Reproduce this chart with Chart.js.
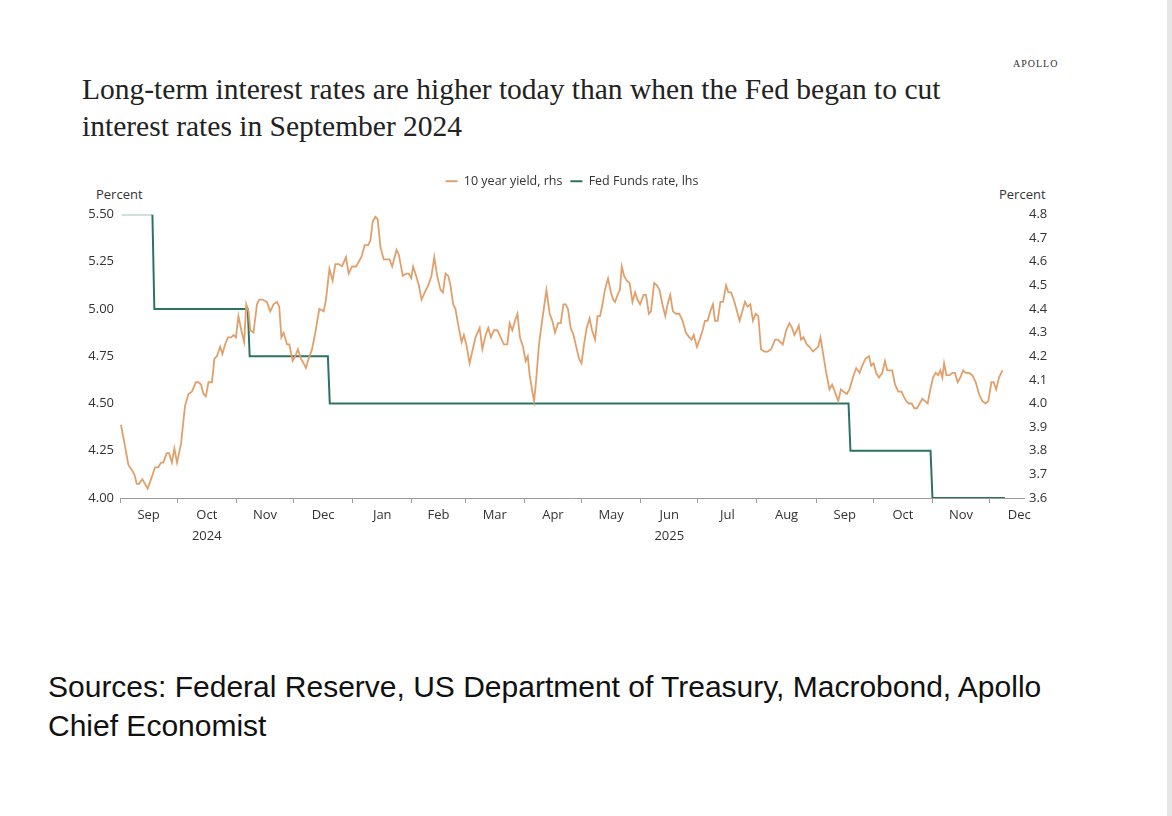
<!DOCTYPE html>
<html>
<head>
<meta charset="utf-8">
<title>Long-term rates vs Fed Funds</title>
<script src="https://cdn.jsdelivr.net/npm/chart.js@4.4.1/dist/chart.umd.min.js"></script>
<style>
  html, body { margin: 0; padding: 0; background: #fff; }
  body { width: 1172px; height: 816px; position: relative; overflow: hidden; }
  .edge { position: absolute; left: 1167px; top: 0; width: 5px; height: 816px; background: #e6e6e6; }
  .brand { position: absolute; left: 1013px; top: 58px; font-family: 'Liberation Serif', serif; font-size: 10px; letter-spacing: 1px; color: #333; }
  .title { position: absolute; left: 82px; top: 71px; width: 1000px; font-family: 'Liberation Serif', serif; font-size: 29.5px; line-height: 37px; color: #222; }
  .unit { position: absolute; top: 185px; font-family: 'Open Sans', sans-serif; font-size: 13px; color: #333; }
  .sources { position: absolute; left: 48px; top: 667px; font-family: 'Liberation Sans', Arial, sans-serif; font-size: 30px; line-height: 39px; color: #111; }
  #chartBox { position: absolute; left: 0; top: 160px; width: 1172px; height: 400px; }
</style>
</head>
<body>
<div class="edge"></div>
<div class="brand">APOLLO</div>
<div class="title">Long-term interest rates are higher today than when the Fed began to cut<br>interest rates in September 2024</div>
<div class="unit" style="left:96px">Percent</div>
<div class="unit" style="left:999px">Percent</div>
<div id="chartBox"><canvas id="rateChart"></canvas></div>
<div class="sources">Sources: Federal Reserve, US Department of Treasury, Macrobond, Apollo<br>Chief Economist</div>

<script>
// days counted from 1 Sep 2024
const yieldDay = [
  0.5, 2.6, 4.4, 6.1, 7.5, 8.8, 10.0, 11.7, 13.1, 14.5, 16.3, 18.4, 20.1, 21.5, 22.7, 24.5, 25.7, 27.2, 28.5, 29.9,
  32.0, 34.1, 35.9, 37.7, 39.8, 41.1, 42.5, 43.8, 45.0, 46.4, 48.2, 49.5, 50.8, 52.5, 53.7, 55.1, 56.6, 58.3, 59.5, 60.8,
  62.1, 63.6, 65.1, 66.2, 67.4, 68.3, 70.0, 71.8, 73.0, 74.7, 77.0, 78.8, 80.5, 82.3, 83.5, 84.6, 85.8, 87.6, 88.8, 90.5,
  91.9, 93.3, 94.9, 96.3, 97.5, 98.9, 100.7, 102.4, 104.5, 106.8, 108.0, 109.8, 111.5, 112.9, 114.7, 116.4, 118.5, 119.9, 121.7, 123.8,
  125.2, 126.6, 128.3, 130.1, 131.3, 132.5, 133.9, 135.1, 136.6, 138.3, 140.1, 141.3, 142.7, 145.0, 146.2, 148.3, 150.1, 151.4, 152.7, 153.7,
  155.3, 156.7, 158.1, 159.8, 161.6, 163.3, 164.8, 166.3, 168.1, 169.3, 170.7, 172.1, 173.3, 174.7, 175.9, 177.4, 179.1, 180.3, 181.6, 183.3,
  184.7, 186.4, 188.6, 190.0, 191.7, 193.1, 194.5, 196.1, 197.9, 199.6, 201.3, 203.1, 204.3, 205.7, 207.1, 208.4, 209.7, 211.3, 212.7, 213.8,
  214.8, 216.2, 217.1, 218.0, 219.7, 221.5, 223.6, 225.3, 226.7, 228.1, 229.7, 231.1, 232.5, 233.7, 234.9, 236.3, 237.8, 239.5, 240.7, 242.0,
  243.3, 244.7, 246.2, 247.5, 249.1, 250.4, 251.7, 253.0, 254.2, 255.9, 257.4, 258.6, 259.6, 260.9, 262.1, 263.1, 264.3, 265.8, 267.2, 268.7,
  270.1, 271.3, 272.7, 274.5, 275.8, 277.3, 278.4, 280.1, 281.5, 282.9, 284.4, 285.9, 287.1, 288.5, 289.9, 291.5, 293.2, 295.0, 296.7, 298.5,
  299.7, 300.8, 302.5, 303.9, 305.5, 306.7, 308.1, 309.5, 310.9, 312.0, 313.4, 314.8, 316.2, 317.8, 319.0, 320.4, 321.8, 323.2, 324.9, 326.3,
  327.7, 329.1, 330.5, 331.9, 333.3, 334.7, 336.1, 337.8, 339.6, 341.4, 343.5, 344.9, 347.5, 349.3, 351.0, 352.4, 353.6, 354.9, 355.9, 357.1,
  358.4, 360.1, 361.5, 363.3, 364.7, 366.1, 367.3, 368.5, 370.3, 372.0, 373.4, 374.8, 376.6, 378.0, 379.4, 381.1, 382.5, 384.3, 386.0, 387.8,
  389.2, 390.9, 392.7, 393.9, 395.1, 396.5, 397.9, 399.7, 401.1, 402.3, 403.5, 404.9, 406.4, 408.1, 409.8, 410.9, 412.3, 413.7, 415.1, 416.5,
  417.9, 419.3, 420.7, 422.1, 423.5, 424.9, 426.3, 427.7, 429.0, 430.1, 431.2, 432.1, 433.3, 435.0, 436.4, 437.8, 439.2, 440.6, 442.1, 443.4,
  445.2, 446.9, 448.7, 450.4, 452.2, 453.9, 455.3, 456.9, 458.1, 459.4, 460.9, 462.7
];
const yieldValue = [
  3.91, 3.82, 3.74, 3.72, 3.70, 3.66, 3.66, 3.68, 3.66, 3.64, 3.68, 3.73, 3.73, 3.75, 3.75, 3.79, 3.79, 3.75, 3.81, 3.75,
  3.83, 3.99, 4.04, 4.05, 4.09, 4.09, 4.08, 4.04, 4.03, 4.09, 4.09, 4.19, 4.20, 4.24, 4.21, 4.25, 4.28, 4.28, 4.29, 4.28,
  4.37, 4.31, 4.26, 4.42, 4.39, 4.31, 4.30, 4.42, 4.44, 4.44, 4.43, 4.39, 4.42, 4.43, 4.41, 4.28, 4.30, 4.25, 4.25, 4.18,
  4.20, 4.23, 4.19, 4.17, 4.15, 4.19, 4.23, 4.30, 4.40, 4.39, 4.44, 4.57, 4.52, 4.59, 4.59, 4.58, 4.62, 4.55, 4.58, 4.58,
  4.60, 4.62, 4.67, 4.67, 4.69, 4.77, 4.79, 4.78, 4.66, 4.61, 4.61, 4.61, 4.58, 4.65, 4.63, 4.54, 4.55, 4.55, 4.53, 4.58,
  4.54, 4.50, 4.44, 4.47, 4.50, 4.54, 4.62, 4.54, 4.48, 4.47, 4.55, 4.54, 4.50, 4.42, 4.40, 4.33, 4.26, 4.29, 4.25, 4.17,
  4.22, 4.28, 4.32, 4.23, 4.29, 4.32, 4.28, 4.31, 4.31, 4.28, 4.25, 4.25, 4.34, 4.31, 4.35, 4.38, 4.28, 4.24, 4.18, 4.20,
  4.12, 4.05, 4.01, 4.08, 4.25, 4.36, 4.48, 4.38, 4.35, 4.30, 4.34, 4.34, 4.42, 4.42, 4.40, 4.32, 4.29, 4.23, 4.19, 4.17,
  4.25, 4.32, 4.36, 4.31, 4.27, 4.37, 4.37, 4.42, 4.48, 4.53, 4.47, 4.44, 4.43, 4.46, 4.48, 4.58, 4.54, 4.52, 4.51, 4.43,
  4.47, 4.44, 4.42, 4.46, 4.46, 4.38, 4.39, 4.51, 4.50, 4.48, 4.42, 4.37, 4.42, 4.46, 4.39, 4.38, 4.38, 4.35, 4.30, 4.28,
  4.27, 4.29, 4.24, 4.27, 4.31, 4.35, 4.35, 4.39, 4.42, 4.35, 4.35, 4.43, 4.43, 4.50, 4.47, 4.47, 4.44, 4.40, 4.35, 4.39,
  4.43, 4.41, 4.42, 4.35, 4.38, 4.37, 4.23, 4.22, 4.22, 4.23, 4.27, 4.27, 4.25, 4.31, 4.34, 4.32, 4.29, 4.31, 4.33, 4.27,
  4.28, 4.25, 4.24, 4.22, 4.23, 4.24, 4.28, 4.22, 4.13, 4.06, 4.08, 4.05, 4.01, 4.06, 4.05, 4.04, 4.06, 4.11, 4.15, 4.13,
  4.16, 4.19, 4.20, 4.16, 4.17, 4.13, 4.11, 4.13, 4.18, 4.14, 4.14, 4.14, 4.08, 4.05, 4.05, 4.03, 4.01, 4.00, 4.00, 3.98,
  3.98, 4.00, 4.02, 4.01, 4.00, 4.06, 4.11, 4.13, 4.12, 4.14, 4.11, 4.17, 4.12, 4.12, 4.13, 4.13, 4.09, 4.11, 4.14, 4.13,
  4.13, 4.12, 4.09, 4.04, 4.01, 4.00, 4.01, 4.09, 4.09, 4.06, 4.11, 4.14
];
// Fed Funds target (upper bound), change days
const fedDay = [1, 17, 18, 67, 68, 109, 110, 382, 383, 425, 426, 464];
const fedRate = [5.50, 5.50, 5.00, 5.00, 4.75, 4.75, 4.50, 4.50, 4.25, 4.25, 4.00, 4.00];

const monthNames = ['Jan', 'Feb', 'Mar', 'Apr', 'May', 'Jun', 'Jul', 'Aug', 'Sep', 'Oct', 'Nov', 'Dec'];
const yearUnder = { '2024-9': '2024', '2025-5': '2025' };   // year printed below Oct 2024 and Jun 2025

const yieldColor = '#e1a06b';
const fedColor = '#2b7464';
const textColor = '#333333';
const axisFont = { family: "'Open Sans', sans-serif", size: 13 };
const X_MAX = 474;

const startUTC = Date.UTC(2024, 8, 1);
function dayOf(y, m, d) {
    return (Date.UTC(y, m, d) - startUTC) / 86400000;
}

// month start tick marks + mid-month labels
const xTicks = [];
const xLabel = {};
const monthStart = new Set();
for (let i = 0; i < 17; i++) {
    const y = 2024 + Math.floor((8 + i) / 12);
    const m = (8 + i) % 12;
    const s = dayOf(y, m, 1);
    const mid = (s + dayOf(y, m + 1, 1)) / 2;
    if (s <= X_MAX) { xTicks.push(s); monthStart.add(s); }
    if (mid <= X_MAX) {
        xTicks.push(mid);
        const yr = yearUnder[y + '-' + m];
        xLabel[mid] = yr ? [monthNames[m], yr] : monthNames[m];
    }
}
xTicks.sort((a, b) => a - b);

// stretch the legend box so the plot starts lower
const legendGap = {
    id: 'legendGap',
    beforeInit(chart) {
        const fit = chart.legend.fit;
        chart.legend.fit = function () {
            fit.call(this);
            this.height += 17;
        };
    }
};

const ctx = document.getElementById('rateChart').getContext('2d');
new Chart(ctx, {
    type: 'line',
    data: {
        datasets: [{
            label: '10 year yield, rhs',
            data: yieldDay.map((d, i) => ({ x: d, y: yieldValue[i] })),
            yAxisID: 'yR',
            borderColor: yieldColor,
            backgroundColor: yieldColor,
            borderWidth: 1.8,
            pointRadius: 0,
            tension: 0
        }, {
            label: 'Fed Funds rate, lhs',
            data: fedDay.map((d, i) => ({ x: d, y: fedRate[i] })),
            yAxisID: 'yL',
            borderColor: fedColor,
            backgroundColor: fedColor,
            borderWidth: 2,
            pointRadius: 0,
            tension: 0,
            segment: {
                borderColor: c => c.p0.parsed.x < 17 ? '#9cc4bb' : fedColor
            }
        }]
    },
    options: {
        responsive: true,
        maintainAspectRatio: false,
        animation: false,
        layout: { padding: { top: 7, left: 0, right: 0, bottom: 0 } },
        plugins: {
            tooltip: { enabled: false },
            legend: {
                display: true,
                position: 'top',
                fullSize: false,
                labels: {
                    boxWidth: 12,
                    boxHeight: 2,
                    padding: 8,
                    color: textColor,
                    font: { family: "'Open Sans', sans-serif", size: 12.5 },
                    generateLabels: chart => Chart.defaults.plugins.legend.labels.generateLabels(chart)
                        .map(l => Object.assign(l, { lineWidth: 0 }))
                }
            }
        },
        scales: {
            x: {
                type: 'linear',
                min: 0,
                max: X_MAX,
                afterBuildTicks: s => { s.ticks = xTicks.map(v => ({ value: v })); },
                afterFit: s => { s.height = 62; },
                ticks: {
                    autoSkip: false,
                    maxRotation: 0,
                    padding: 2,
                    color: textColor,
                    font: Object.assign({ lineHeight: 1.6 }, axisFont),
                    callback: v => xLabel[v] !== undefined ? xLabel[v] : ''
                },
                grid: {
                    drawOnChartArea: false,
                    tickLength: 5,
                    color: c => (c.tick && monthStart.has(c.tick.value)) ? '#9a9a9a' : 'rgba(0,0,0,0)'
                },
                border: { color: '#9a9a9a', width: 1 }
            },
            yL: {
                position: 'left',
                min: 4,
                max: 5.5,
                afterFit: s => { s.width = 120; },
                ticks: {
                    stepSize: 0.25,
                    padding: 6,
                    color: textColor,
                    font: axisFont,
                    callback: v => v.toFixed(2)
                },
                grid: { display: false, drawTicks: false },
                border: { display: false }
            },
            yR: {
                position: 'right',
                min: 3.6,
                max: 4.8,
                afterFit: s => { s.width = 148; },
                ticks: {
                    stepSize: 0.1,
                    padding: 5,
                    color: textColor,
                    font: axisFont,
                    callback: v => v.toFixed(1)
                },
                grid: { display: false, drawTicks: false },
                border: { display: false }
            }
        }
    },
    plugins: [legendGap]
});
</script>
</body>
</html>
